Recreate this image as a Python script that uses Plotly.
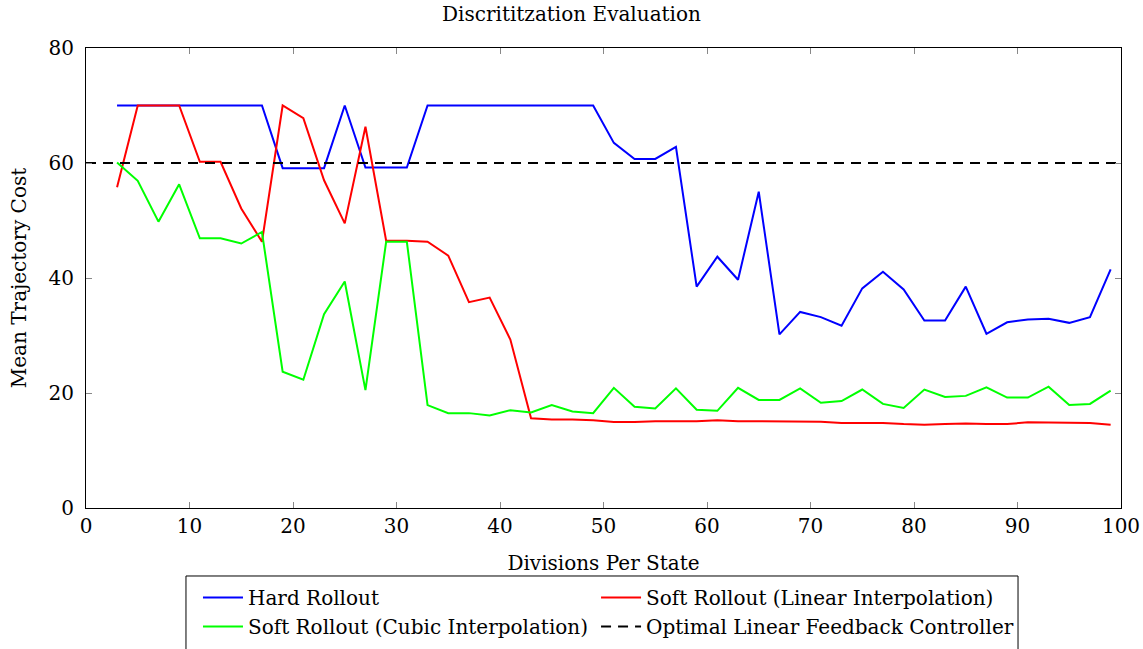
import plotly.graph_objects as go

divisions = list(range(3, 100, 2))

hard_rollout = [70, 70, 70, 70, 70, 70, 70, 70, 59.1, 59.1, 59.1, 70, 59.2, 59.2, 59.2,
                70, 70, 70, 70, 70, 70, 70, 70, 70, 63.5, 60.7, 60.7, 62.8, 38.5, 43.7,
                39.7, 55.0, 30.2, 34.1, 33.2, 31.7, 38.2, 41.1, 38.0, 32.6, 32.6, 38.5,
                30.3, 32.3, 32.8, 32.9, 32.2, 33.2, 41.5]

soft_linear = [55.8, 70, 70, 70, 60.2, 60.2, 52.1, 46.3, 70, 67.8, 57.0, 49.5, 66.3, 46.5,
               46.5, 46.3, 43.9, 35.8, 36.6, 29.3, 15.6, 15.4, 15.4, 15.25, 14.96, 14.96,
               15.1, 15.1, 15.1, 15.25, 15.1, 15.1, 15.1, 15.0, 15.0, 14.8, 14.8, 14.8,
               14.6, 14.5, 14.6, 14.7, 14.6, 14.6, 14.9, 14.9, 14.8, 14.8, 14.5]

soft_cubic = [60.1, 56.9, 49.8, 56.3, 46.9, 46.9, 46.0, 48.0, 23.7, 22.3, 33.7, 39.4, 20.5,
              46.3, 46.3, 17.9, 16.5, 16.5, 16.1, 17.0, 16.6, 17.9, 16.8, 16.5, 20.9, 17.6,
              17.3, 20.8, 17.1, 16.9, 20.9, 18.8, 18.8, 20.8, 18.3, 18.6, 20.6, 18.1, 17.4,
              20.6, 19.3, 19.5, 21.0, 19.2, 19.2, 21.1, 17.9, 18.1, 20.4]

optimal_x = [0, 100]
optimal_y = [60, 60]

x_ticks = [0, 10, 20, 30, 40, 50, 60, 70, 80, 90, 100]
y_ticks = [0, 20, 40, 60, 80]

FONT = "DejaVu Serif"
FS = 20

fig = go.Figure()
fig.add_trace(go.Scatter(x=divisions, y=hard_rollout, mode="lines", name="Hard Rollout",
                         line=dict(color="#0000FF", width=2), legend="legend"))
fig.add_trace(go.Scatter(x=divisions, y=soft_linear, mode="lines",
                         name="Soft Rollout (Linear Interpolation)",
                         line=dict(color="#FF0000", width=2), legend="legend2"))
fig.add_trace(go.Scatter(x=divisions, y=soft_cubic, mode="lines",
                         name="Soft Rollout (Cubic Interpolation)",
                         line=dict(color="#00FF00", width=2), legend="legend"))
fig.add_trace(go.Scatter(x=optimal_x, y=optimal_y, mode="lines",
                         name="Optimal Linear Feedback Controller",
                         line=dict(color="black", width=2, dash="10px,7px"), legend="legend2"))

axis_common = dict(showline=True, linecolor="black", linewidth=1, mirror="allticks",
                   ticks="inside", ticklen=6, tickcolor="#888888", showgrid=False,
                   zeroline=False, tickfont=dict(family=FONT, size=FS, color="black"))

# legend frame around both legend columns
fig.add_shape(type="rect", xref="paper", yref="paper",
              x0=0.0966, x1=0.9005, y0=-0.1478, y1=-0.40,
              line=dict(color="black", width=1), fillcolor="rgba(0,0,0,0)", layer="above")

legend_common = dict(orientation="v", yanchor="top", y=-0.1522, xanchor="left",
                     borderwidth=0, bgcolor="rgba(0,0,0,0)",
                     font=dict(family=FONT, size=FS), itemwidth=40)

fig.update_layout(
    width=1143, height=649,
    margin=dict(l=86, r=22, t=48, b=141, autoexpand=False),
    paper_bgcolor="white", plot_bgcolor="white",
    font=dict(family=FONT, size=FS, color="black"),
    title=dict(text="Discrititzation Evaluation", x=0.5, xanchor="center",
               y=0.978, yanchor="middle", font=dict(family=FONT, size=FS)),
    xaxis=dict(range=[0, 100], tickvals=x_ticks,
               title=dict(text="Divisions Per State", font=dict(family=FONT, size=FS), standoff=18),
               **axis_common),
    yaxis=dict(range=[0, 80], tickvals=y_ticks, ticklabelstandoff=7,
               title=dict(text="Mean Trajectory Cost", font=dict(family=FONT, size=FS), standoff=16),
               **axis_common),
    legend=dict(x=0.1082, **legend_common),
    legend2=dict(x=0.4928, **legend_common),
    showlegend=True,
)

fig.write_html("out.html")
